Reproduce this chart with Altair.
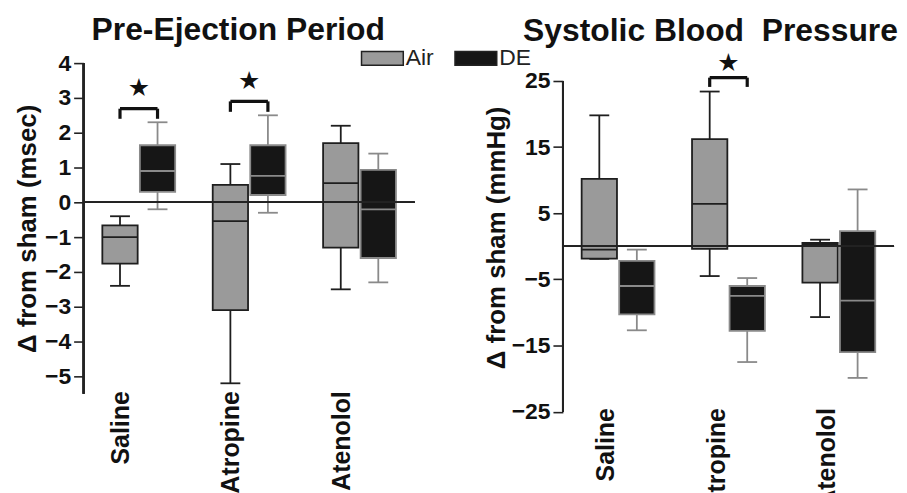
import json
import altair as alt
import pandas as pd

# ---------------- data ----------------
groups = ["Saline", "Atropine", "Atenolol"]
conditions = ["Air", "DE"]

# Pre-Ejection Period (msec change from sham)
pep_air_min = [-2.4, -5.2, -2.5]
pep_air_q1 = [-1.76, -3.1, -1.3]
pep_air_med = [-1.0, -0.54, 0.55]
pep_air_q3 = [-0.66, 0.5, 1.7]
pep_air_max = [-0.4, 1.1, 2.2]

pep_de_min = [-0.2, -0.3, -2.3]
pep_de_q1 = [0.3, 0.21, -1.6]
pep_de_med = [0.9, 0.76, -0.2]
pep_de_q3 = [1.64, 1.64, 0.93]
pep_de_max = [2.3, 2.5, 1.4]

# Systolic Blood Pressure (mmHg change from sham)
sbp_air_min = [-1.9, -4.5, -10.7]
sbp_air_q1 = [-1.86, -0.4, -5.5]
sbp_air_med = [-0.5, 6.4, 0.3]
sbp_air_q3 = [10.2, 16.2, 0.5]
sbp_air_max = [19.8, 23.4, 1.0]

sbp_de_min = [-12.7, -17.5, -19.9]
sbp_de_q1 = [-10.3, -12.8, -16.0]
sbp_de_med = [-6.0, -7.5, -8.2]
sbp_de_q3 = [-2.2, -6.0, 2.3]
sbp_de_max = [-0.5, -4.8, 8.6]

# significance brackets (group index, bracket top, leg bottom, star y)
pep_sig_group = [0, 1]
pep_sig_top = [2.69, 2.9]
pep_sig_leg = [2.4, 2.6]
pep_sig_star = [3.29, 3.49]

sbp_sig_group = [1]
sbp_sig_top = [25.5]
sbp_sig_leg = [24.1]
sbp_sig_star = [27.7]

pep_ticks = [-5, -4, -3, -2, -1, 0, 1, 2, 3, 4]
pep_axis_range = [-5.5, 4]
sbp_ticks = [-25, -15, -5, 5, 15, 25]
sbp_axis_range = [-25, 25]


def box_frame(air, de):
    rows = []
    for i, g in enumerate(groups):
        for cond, s in (("Air", air), ("DE", de)):
            rows.append(dict(group=g, gi=i, cond=cond, lo=s[0][i], q1=s[1][i],
                             med=s[2][i], q3=s[3][i], hi=s[4][i]))
    return pd.DataFrame(rows)


pep_df = box_frame((pep_air_min, pep_air_q1, pep_air_med, pep_air_q3, pep_air_max),
                   (pep_de_min, pep_de_q1, pep_de_med, pep_de_q3, pep_de_max))
sbp_df = box_frame((sbp_air_min, sbp_air_q1, sbp_air_med, sbp_air_q3, sbp_air_max),
                   (sbp_de_min, sbp_de_q1, sbp_de_med, sbp_de_q3, sbp_de_max))
pep_sig = pd.DataFrame(dict(gi=pep_sig_group, top=pep_sig_top, leg=pep_sig_leg,
                            star=pep_sig_star))
sbp_sig = pd.DataFrame(dict(gi=sbp_sig_group, top=sbp_sig_top, leg=sbp_sig_leg,
                            star=sbp_sig_star))

FONT = "Liberation Sans"
OFF = 0.17     # half distance between Air and DE box centres (in group units)
HALF = 0.16    # half box width
CAP = 0.09     # half whisker-cap width

fill_scale = alt.Scale(domain=conditions, range=["#9a9a9a", "#161616"])
# edge colours: dark outline for Air, grey outline for DE
edge = alt.condition("datum.cond == 'Air'", alt.value("#1e1e1e"), alt.value("#8a8a8a"))

legend = alt.Legend(
    title=None, orient="none", direction="horizontal", legendX=289, legendY=-16.5,
    symbolType="M-3,-1H3V1H-3Z", symbolSize=196,
    symbolStrokeColor="#222", symbolStrokeWidth=1.5,
    labelFont=FONT, labelFontSize=23, labelColor="#222", labelOffset=12,
    columnPadding=17, padding=0,
)


def panel(df, sig, ydom, yticks, axis_range, ytitle, title, title_dx, title_off,
          label_shift, label_pad, title_pad, height, show_legend):
    xs = alt.Scale(domain=[-0.5, 2.5], nice=False, zero=False)
    ys = alt.Scale(domain=ydom, nice=False, zero=False)
    names = json.dumps(groups)
    xaxis = alt.Axis(
        values=[i + label_shift for i in range(len(groups))],
        labelExpr=f"{names}[round(datum.value - ({label_shift}))]",
        labelAngle=-90, labelFont=FONT, labelFontSize=25, labelFontWeight="bold",
        labelColor="#111", labelPadding=label_pad, ticks=False, domain=False,
        grid=False, title=None,
    )
    yaxis = alt.Axis(
        values=yticks, labelFont=FONT, labelFontSize=23, labelFontWeight="bold",
        labelColor="#111", tickColor="#222", tickSize=10, tickWidth=1.6,
        domain=False, grid=False, labelPadding=3, labelOverlap=False,
        labelFlush=False, tickCount=len(yticks),
        title=ytitle, titleFont=FONT, titleFontSize=26, titleFontWeight="bold",
        titleColor="#111", titlePadding=title_pad,
    )
    base = alt.Chart(df).transform_calculate(
        pos=f"datum.gi + (datum.cond == 'Air' ? {-OFF} : {OFF})"
    ).transform_calculate(
        bl=f"datum.pos - {HALF}", br=f"datum.pos + {HALF}",
        cl=f"datum.pos - {CAP}", cr=f"datum.pos + {CAP}",
    )

    whisker = base.mark_rule(strokeWidth=1.8).encode(
        x=alt.X("pos:Q", scale=xs, axis=xaxis),
        y=alt.Y("lo:Q", scale=ys, axis=yaxis),
        y2="hi:Q", stroke=edge,
    )
    # y axis line over the labelled range
    axis_line = alt.Chart(df).mark_rule(color="#222", strokeWidth=1.8).encode(
        x=alt.datum(-0.5), y=alt.datum(axis_range[0]), y2=alt.datum(axis_range[1]))
    cap_lo = base.mark_rule(strokeWidth=1.8).encode(
        x="cl:Q", x2="cr:Q", y="lo:Q", stroke=edge)
    cap_hi = base.mark_rule(strokeWidth=1.8).encode(
        x="cl:Q", x2="cr:Q", y="hi:Q", stroke=edge)
    box = base.mark_bar(strokeWidth=1.8).encode(
        x="bl:Q", x2="br:Q", y="q1:Q", y2="q3:Q",
        fill=alt.Fill("cond:N", scale=fill_scale,
                      legend=legend if show_legend else None),
        stroke=edge,
    )
    median = base.mark_rule(strokeWidth=1.8).encode(
        x="bl:Q", x2="br:Q", y="med:Q", stroke=edge)
    zero = alt.Chart(df).mark_rule(color="#222", strokeWidth=1.6).encode(
        y=alt.datum(0))

    sbase = alt.Chart(sig).transform_calculate(
        xa=f"datum.gi - {OFF}", xd=f"datum.gi + {OFF}")
    br_h = sbase.mark_rule(color="#111", strokeWidth=3.2).encode(
        x="xa:Q", x2="xd:Q", y="top:Q")
    br_l = sbase.mark_rule(color="#111", strokeWidth=3.2).encode(
        x="xa:Q", y="leg:Q", y2="top:Q")
    br_r = sbase.mark_rule(color="#111", strokeWidth=3.2).encode(
        x="xd:Q", y="leg:Q", y2="top:Q")
    star = sbase.mark_text(text="\u2605", font="DejaVu Sans", fontSize=25,
                           color="#111", baseline="middle").encode(
        x="gi:Q", y="star:Q")

    return alt.layer(whisker, axis_line, cap_lo, cap_hi, box, median, zero,
                     br_h, br_l, br_r, star).properties(
        width=333, height=height,
        title=alt.TitleParams(title, anchor="start", frame="group", dx=title_dx,
                              offset=title_off, font=FONT, fontSize=32,
                              fontWeight="bold", color="#111"),
    )


left = panel(pep_df, pep_sig, [-5.5, 4], pep_ticks, pep_axis_range,
             "\u0394 from sham (msec)", "Pre-Ejection Period", 8, 0,
             -0.165, -3, 4, 332.5, True)
# right panel: 18 px of extra room above the top tick
right = panel(sbp_df, sbp_sig, [-25, 27.7], sbp_ticks, sbp_axis_range,
              "\u0394 from sham (mmHg)", "Systolic Blood\u00a0 Pressure", -40, 3,
              -0.11, -4, 2, 350.5, False)

chart = alt.hconcat(left, right, spacing=149, bounds="flush").resolve_scale(
    fill="independent", x="independent", y="independent"
).resolve_legend(fill="independent").configure_view(stroke=None).configure_axisY(
    labelOverlap=False
).properties(
    padding={"left": 6, "top": 4, "right": 0, "bottom": 0}
)

chart.save("out.html", embed_options={"renderer": "svg", "actions": False})
